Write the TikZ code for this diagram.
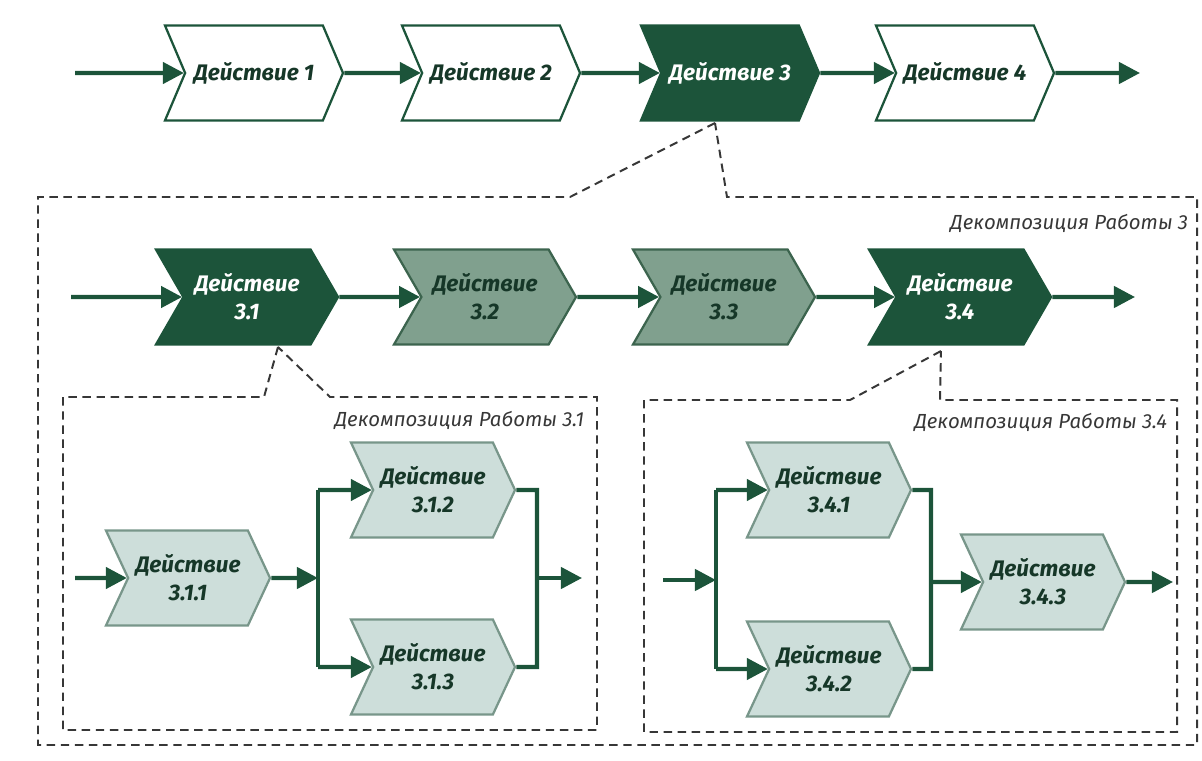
\documentclass[tikz,border=0pt]{standalone}
\usepackage{fontspec}
\setmainfont{Fira Sans}
\usepackage{tikz}
\usetikzlibrary{
  arrows.meta,
  positioning,
  shapes.symbols
}
\definecolor{actgreen}{RGB}{28,84,58}
\definecolor{txtgreen}{RGB}{22,55,40}
\definecolor{midfill}{RGB}{128,160,142}
\definecolor{midline}{RGB}{60,100,78}
\definecolor{lightfill}{RGB}{205,222,218}
\definecolor{lightline}{RGB}{120,150,138}
\definecolor{boxgray}{RGB}{55,55,55}

\begin{document}
\begin{tikzpicture}[
  x=0.025cm, y=-0.025cm,
  act/.style={signal, signal from=west, signal to=east, draw,
              line width=1.6pt, minimum height=2.375cm, inner sep=1pt,
              align=center, text=txtgreen,
              font=\fontsize{16}{20}\selectfont\bfseries\itshape},
  actwhite/.style={act, fill=white, draw=actgreen, minimum width=4.45cm,
                   signal pointer angle=134},
  actdark/.style={act, fill=actgreen, draw=actgreen, text=white,
                  minimum width=4.55cm, signal pointer angle=120},
  actmid/.style={act, fill=midfill, draw=midline, minimum width=4.55cm,
                 signal pointer angle=120},
  actlight/.style={act, fill=lightfill, draw=lightline, minimum width=4.1cm,
                   signal pointer angle=130},
  arr/.style={-{Triangle[length=15pt, width=15pt]}, line width=3pt, draw=actgreen},
  flow/.style={line width=3pt, draw=actgreen},
  decomp/.style={draw=boxgray, line width=1.4pt, dash pattern=on 6pt off 4pt},
  lbl/.style={anchor=east, text=boxgray, font=\fontsize{14.5}{16}\selectfont\itshape}
]
\useasboundingbox (0,0) rectangle (1202,761);

% ── Row 1: Work ──
\coordinate (in0) at (75,73);
\node[actwhite] (act1) at (254,73) {Действие 1};
\node[actwhite] (act2) at (491,73) {Действие 2};
\node[actdark, minimum width=4.45cm, signal pointer angle=134] (act3) at (730,73) {Действие 3};
\node[actwhite] (act4) at (965,73) {Действие 4};
\coordinate (out0) at (1140,73);
\draw[arr] (in0) -- (act1);
\draw[arr] (act1) -- (act2);
\draw[arr] (act2) -- (act3);
\draw[arr] (act3) -- (act4);
\draw[arr] (act4) -- (out0);

% ── Decomposition of work 3 ──
\draw[decomp] (715,123) -- (570,197) -- (38,197) -- (38,745) -- (1197,745)
  -- (1197,197) -- (727,197) -- cycle;
\node[lbl] (lbl3) at (1193,223) {Декомпозиция Работы 3};

% ── Row 2: Work 3 ──
\coordinate (in3) at (71,297);
\node[actdark] (act31) at (247,297) {Действие\\3.1};
\node[actmid] (act32) at (485,297) {Действие\\3.2};
\node[actmid] (act33) at (724,297) {Действие\\3.3};
\node[actdark] (act34) at (960,297) {Действие\\3.4};
\coordinate (out3) at (1135,297);
\draw[arr] (in3) -- (act31);
\draw[arr] (act31) -- (act32);
\draw[arr] (act32) -- (act33);
\draw[arr] (act33) -- (act34);
\draw[arr] (act34) -- (out3);

% ── Decomposition of work 3.1 ──
\draw[decomp] (278,347) -- (264,397) -- (63,397) -- (63,730) -- (597,730)
  -- (597,397) -- (330,397) -- cycle;
\node[lbl] (lbl31) at (589,420) {Декомпозиция Работы 3.1};

\coordinate (in31) at (75,578);
\node[actlight] (act311) at (188,578) {Действие\\3.1.1};
\node[actlight] (act312) at (433,490) {Действие\\3.1.2};
\node[actlight] (act313) at (433,667) {Действие\\3.1.3};
\coordinate (fork31) at (318,578);
\coordinate (fork31t) at (318,490);
\coordinate (fork31b) at (318,667);
\coordinate (join31t) at (537,490);
\coordinate (join31b) at (537,667);
\coordinate (join31) at (537,578);
\coordinate (out31) at (582,578);
\draw[arr] (in31) -- (act311);
\draw[arr] (act311) -- (fork31);
\draw[flow] (fork31t) -- (fork31b);
\draw[arr] (fork31t) -- (act312);
\draw[arr] (fork31b) -- (act313);
\draw[flow] (act312) -- (join31t) -- (join31b) -- (act313);
\draw[arr] (join31) -- (out31);

% ── Decomposition of work 3.4 ──
\draw[decomp] (941,351) -- (850,400) -- (644,400) -- (644,732) -- (1177,732)
  -- (1177,400) -- (940,400) -- cycle;
\node[lbl] (lbl34) at (1172,422) {Декомпозиция Работы 3.4};

\coordinate (in34) at (663,580);
\node[actlight] (act341) at (829,490) {Действие\\3.4.1};
\node[actlight] (act342) at (829,669) {Действие\\3.4.2};
\node[actlight] (act343) at (1043,582) {Действие\\3.4.3};
\coordinate (fork34) at (716,580);
\coordinate (fork34t) at (716,490);
\coordinate (fork34b) at (716,669);
\coordinate (join34t) at (931,490);
\coordinate (join34b) at (931,669);
\coordinate (join34) at (931,582);
\coordinate (out34) at (1173,582);
\draw[arr] (in34) -- (fork34);
\draw[flow] (fork34t) -- (fork34b);
\draw[arr] (fork34t) -- (act341);
\draw[arr] (fork34b) -- (act342);
\draw[flow] (act341) -- (join34t) -- (join34b) -- (act342);
\draw[arr] (join34) -- (act343);
\draw[arr] (act343) -- (out34);

\end{tikzpicture}
\end{document}
